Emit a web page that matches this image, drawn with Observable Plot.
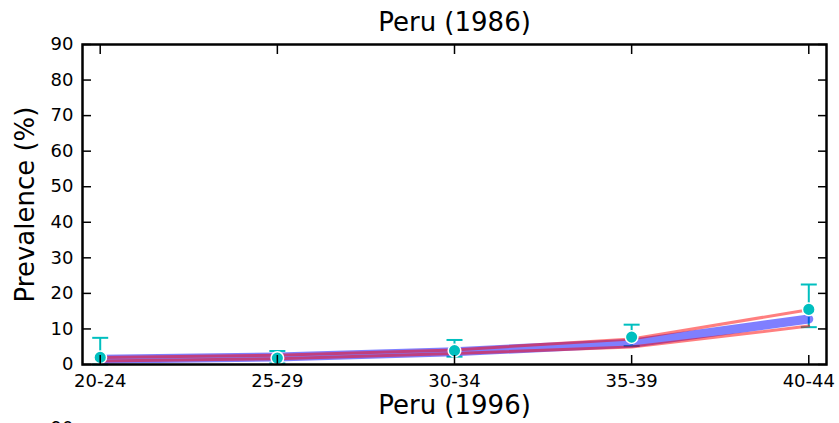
<!DOCTYPE html>
<html>
<head>
<meta charset="utf-8">
<script src="https://cdn.jsdelivr.net/npm/d3@7"></script>
<script src="https://cdn.jsdelivr.net/npm/@observablehq/plot@0.6"></script>
<style>
  html, body { margin: 0; padding: 0; background: #fff; overflow: hidden; }
  svg { display: block; font-family: "DejaVu Sans", sans-serif; }
</style>
</head>
<body>
<div id="chart"></div>
<script>
const title = "Peru (1986)";
const nextTitle = "Peru (1996)";
const yLabel = "Prevalence (%)";
const ageGroups = ["20-24", "25-29", "30-34", "35-39", "40-44"];
const modelMean = [1.5, 2.1, 3.6, 6.0, 12.8];
const modelUpper = [2.0, 2.6, 4.1, 7.2, 15.4];
const modelLower = [1.0, 1.6, 3.1, 4.9, 10.8];
const observed = [2.0, 1.8, 3.9, 7.7, 15.5];
const observedHigh = [7.5, 3.8, 6.9, 11.2, 22.5];
const observedLow = [0, 0.3, 2.2, 5.2, 10.5];
const yTicks = [0, 10, 20, 30, 40, 50, 60, 70, 80, 90];

const rows = ageGroups.map((a, i) => ({
  i, age: a,
  mean: modelMean[i], upper: modelUpper[i], lower: modelLower[i],
  obs: observed[i], hi: observedHigh[i], lo: observedLow[i]
}));

const capSymbol = {
  draw(context, size) {
    const w = Math.sqrt(size / Math.PI);
    context.moveTo(-w, 0);
    context.lineTo(w, 0);
  }
};

const cyan = "#00bfbf";
const xTicks = ageGroups.map((_, i) => i);

const chart = Plot.plot({
  width: 839,
  height: 423,
  marginLeft: 82,
  marginRight: 13,
  marginTop: 44,
  marginBottom: 59,
  style: { fontFamily: "DejaVu Sans, sans-serif", background: "white", overflow: "visible" },
  x: { type: "linear", domain: [-0.1, 4.1] },
  y: { domain: [0, 90] },
  marks: [
    // error bars
    Plot.ruleX(rows, { x: "i", y1: "lo", y2: "hi", stroke: cyan, strokeWidth: 2 }),
    Plot.dot(rows, { x: "i", y: "hi", r: 8, symbol: capSymbol, stroke: cyan, strokeWidth: 2, fill: "none" }),
    Plot.dot(rows, { x: "i", y: "lo", r: 8, symbol: capSymbol, stroke: cyan, strokeWidth: 2, fill: "none" }),
    // model lines
    Plot.line(rows, { x: "i", y: "mean", stroke: "blue", strokeOpacity: 0.5, strokeWidth: 9 }),
    Plot.line(rows, { x: "i", y: "upper", stroke: "red", strokeOpacity: 0.5, strokeWidth: 3 }),
    Plot.line(rows, { x: "i", y: "lower", stroke: "red", strokeOpacity: 0.5, strokeWidth: 3 }),
    // observed points
    Plot.dot(rows, { x: "i", y: "obs", r: 6.3, fill: cyan, stroke: "white", strokeWidth: 1.5 }),
    // axes
    Plot.axisX({ anchor: "bottom", ticks: xTicks, tickFormat: i => ageGroups[i], tickSize: -9, tickPadding: 19, fontSize: 18, stroke: "black", strokeWidth: 1.5, color: "black", label: null }),
    Plot.axisX({ anchor: "top", ticks: xTicks, tickFormat: () => "", tickSize: -9, tickPadding: 0, stroke: "black", strokeWidth: 1.5, label: null }),
    Plot.axisY({ anchor: "left", ticks: yTicks, tickSize: -9, tickPadding: 18, fontSize: 18, stroke: "black", strokeWidth: 1.5, color: "black", label: null }),
    Plot.axisY({ anchor: "right", ticks: yTicks, tickFormat: () => "", tickSize: -9, tickPadding: 0, stroke: "black", strokeWidth: 1.5, label: null }),
    Plot.frame({ stroke: "black", strokeWidth: 2.5 }),
    // texts
    Plot.text([title], { text: d => d, frameAnchor: "top", lineAnchor: "middle", dy: -22, fontSize: 26, fill: "black" }),
    Plot.text([yLabel], { text: d => d, frameAnchor: "left", textAnchor: "middle", lineAnchor: "middle", dx: -57, rotate: -90, fontSize: 26, fill: "black" }),
    Plot.text([nextTitle], { text: d => d, frameAnchor: "bottom", lineAnchor: "middle", dy: 41, fontSize: 26, fill: "black" }),
    Plot.text(["90"], { text: d => d, frameAnchor: "bottom-left", textAnchor: "end", lineAnchor: "top", dx: -9, dy: 57, fontSize: 18, fill: "black" })
  ]
});
document.getElementById("chart").appendChild(chart);
</script>
</body>
</html>
